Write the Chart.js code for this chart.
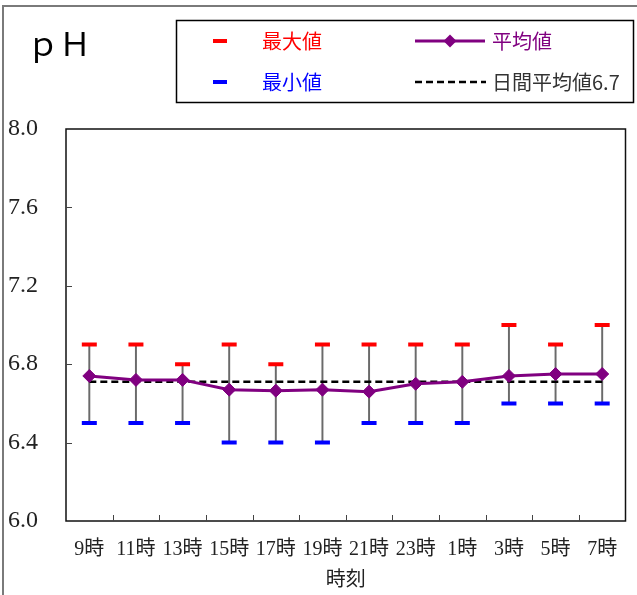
<!DOCTYPE html>
<html>
<head>
<meta charset="utf-8">
<script src="https://cdn.jsdelivr.net/npm/chart.js@4/dist/chart.umd.min.js"></script>
<style>
  html, body { margin: 0; padding: 0; background: #fff; }
  #wrap { width: 637px; height: 595px; position: relative; }
</style>
</head>
<body>
<div id="wrap"><canvas id="c" width="637" height="595"></canvas></div>
<script>
// ---- data ----
const categories = ['9時', '11時', '13時', '15時', '17時', '19時', '21時', '23時', '1時', '3時', '5時', '7時'];
const maxValues  = [6.9, 6.9, 6.8, 6.9, 6.8, 6.9, 6.9, 6.9, 6.9, 7.0, 6.9, 7.0];
const minValues  = [6.5, 6.5, 6.5, 6.4, 6.4, 6.4, 6.5, 6.5, 6.5, 6.6, 6.6, 6.6];
const meanValues = [6.74, 6.72, 6.72, 6.67, 6.665, 6.67, 6.66, 6.70, 6.71, 6.74, 6.75, 6.75];
const dailyMeanValues = [6.71, 6.71, 6.71, 6.71, 6.71, 6.71, 6.71, 6.71, 6.71, 6.71, 6.71, 6.71];
const yTickMin = 6.0, yTickMax = 8.0, yTickStep = 0.4;
const chartTitle = 'ｐＨ';
const xAxisTitle = '時刻';
const legendLabels = { max: '最大値', min: '最小値', mean: '平均値', daily: '日間平均値6.7' };

const RED = '#FF0000', BLUE = '#0000FF', PURPLE = '#800080';
const serifFont = "'Liberation Serif', 'Noto Sans CJK JP', serif";
const cjkFont = "'Noto Sans CJK JP', sans-serif";

const decorPlugin = {
  id: 'decor',
  beforeDraw(chart) {
    const ctx = chart.ctx;
    ctx.save();
    ctx.fillStyle = '#fff';
    ctx.fillRect(0, 0, chart.width, chart.height);
    ctx.strokeStyle = '#7a7a7a';
    ctx.lineWidth = 2;
    ctx.beginPath();
    ctx.moveTo(3, 595);
    ctx.lineTo(3, 6);
    ctx.lineTo(637, 6);
    ctx.stroke();
    ctx.restore();
  },
  afterDraw(chart) {
    const ctx = chart.ctx;
    const a = chart.chartArea;
    const xs = chart.scales.x, ys = chart.scales.y;
    ctx.save();
    ctx.strokeStyle = '#111';
    ctx.lineWidth = 1.5;
    ctx.strokeRect(a.left, a.top, a.right - a.left, a.bottom - a.top);
    ctx.strokeStyle = '#444';
    ctx.lineWidth = 1;
    ctx.beginPath();
    ys.ticks.forEach(t => {
      const y = Math.round(ys.getPixelForValue(t.value)) + 0.5;
      if (y > a.top + 2 && y < a.bottom - 2) {
        ctx.moveTo(a.left, y); ctx.lineTo(a.left + 6, y);
      }
    });
    for (let i = 0; i < categories.length - 1; i++) {
      const x = Math.round((xs.getPixelForValue(i) + xs.getPixelForValue(i + 1)) / 2) + 0.5;
      ctx.moveTo(x, a.bottom); ctx.lineTo(x, a.bottom - 6);
    }
    ctx.stroke();

    ctx.fillStyle = '#000';
    ctx.font = "32px " + cjkFont;
    ctx.textBaseline = 'middle';
    ctx.textAlign = 'left';
    ctx.fillText(chartTitle, 27, 44);

    ctx.strokeStyle = '#000';
    ctx.lineWidth = 1.5;
    ctx.strokeRect(176.5, 20.5, 457, 82);

    const ds = chart.data.datasets;
    const row1 = 41, row2 = 82;
    ctx.font = "20px " + cjkFont;
    ctx.textBaseline = 'middle';
    ctx.strokeStyle = ds[3].borderColor; ctx.lineWidth = 4;
    ctx.beginPath(); ctx.moveTo(213, row1); ctx.lineTo(227, row1); ctx.stroke();
    ctx.fillStyle = RED; ctx.fillText(legendLabels.max, 262, row1);
    ctx.strokeStyle = ds[4].borderColor; ctx.lineWidth = 4;
    ctx.beginPath(); ctx.moveTo(213, row2); ctx.lineTo(227, row2); ctx.stroke();
    ctx.fillStyle = BLUE; ctx.fillText(legendLabels.min, 262, row2);
    ctx.strokeStyle = ds[2].borderColor; ctx.lineWidth = 3;
    ctx.beginPath(); ctx.moveTo(415, row1); ctx.lineTo(485, row1); ctx.stroke();
    ctx.fillStyle = ds[2].backgroundColor;
    ctx.beginPath();
    ctx.moveTo(450, row1 - 6.5); ctx.lineTo(456.5, row1); ctx.lineTo(450, row1 + 6.5); ctx.lineTo(443.5, row1);
    ctx.closePath(); ctx.fill();
    ctx.fillStyle = PURPLE; ctx.fillText(legendLabels.mean, 492, row1);
    ctx.strokeStyle = ds[1].borderColor; ctx.lineWidth = 2.5;
    ctx.setLineDash(ds[1].borderDash);
    ctx.beginPath(); ctx.moveTo(415, row2); ctx.lineTo(486, row2); ctx.stroke();
    ctx.setLineDash([]);
    ctx.fillStyle = '#333'; ctx.fillText(legendLabels.daily, 492, row2);
    ctx.restore();
  }
};

function build() {
  new Chart(document.getElementById('c'), {
    data: {
      labels: categories,
      datasets: [
        {
          type: 'bar',
          label: 'range',
          data: minValues.map((v, i) => [v, maxValues[i]]),
          backgroundColor: '#6a6a6a',
          borderWidth: 0,
          barThickness: 1.3,
          grouped: false,
          order: 5
        },
        {
          type: 'line',
          label: legendLabels.daily,
          data: dailyMeanValues,
          borderColor: '#000',
          borderWidth: 2.5,
          borderDash: [7, 4],
          pointRadius: 0,
          fill: false,
          order: 4
        },
        {
          type: 'line',
          label: legendLabels.mean,
          data: meanValues,
          borderColor: PURPLE,
          backgroundColor: PURPLE,
          borderWidth: 3,
          pointStyle: 'rectRot',
          pointRadius: 6.5,
          pointBorderWidth: 1,
          pointBorderColor: PURPLE,
          pointBackgroundColor: PURPLE,
          tension: 0,
          fill: false,
          order: 3
        },
        {
          type: 'line',
          label: legendLabels.max,
          data: maxValues,
          showLine: false,
          borderColor: RED,
          pointStyle: 'line',
          pointRadius: 7.5,
          pointBorderWidth: 4,
          pointBorderColor: RED,
          order: 1
        },
        {
          type: 'line',
          label: legendLabels.min,
          data: minValues,
          showLine: false,
          borderColor: BLUE,
          pointStyle: 'line',
          pointRadius: 7.5,
          pointBorderWidth: 4,
          pointBorderColor: BLUE,
          order: 1
        }
      ]
    },
    options: {
      responsive: false,
      devicePixelRatio: 1,
      animation: false,
      events: [],
      layout: { padding: { left: 8, right: 6, top: 129, bottom: 0 } },
      plugins: {
        legend: { display: false },
        title: { display: false },
        tooltip: { enabled: false }
      },
      scales: {
        x: {
          type: 'category',
          offset: true,
          grid: { display: false },
          border: { display: false },
          ticks: {
            color: '#222',
            font: { family: serifFont, size: 20 },
            padding: 9,
            maxRotation: 0,
            autoSkip: false
          },
          title: {
            display: true,
            text: xAxisTitle,
            color: '#222',
            font: { family: cjkFont, size: 20 },
            padding: { top: 0, bottom: 5 }
          },
          afterFit(scale) { scale.height = 74; }
        },
        y: {
          min: yTickMin,
          max: yTickMax,
          grid: { display: false },
          border: { display: false },
          ticks: {
            stepSize: yTickStep,
            color: '#222',
            crossAlign: 'far',
            font: { family: serifFont, size: 24 },
            callback: v => Number(v).toFixed(1)
          },
          afterFit(scale) { scale.width = 58; }
        }
      }
    },
    plugins: [decorPlugin]
  });
}

Promise.all([
  document.fonts.load("24px 'Liberation Serif'"),
  document.fonts.load("20px 'Noto Sans CJK JP'", '時刻最大値')
]).then(build, build);
</script>
</body>
</html>
